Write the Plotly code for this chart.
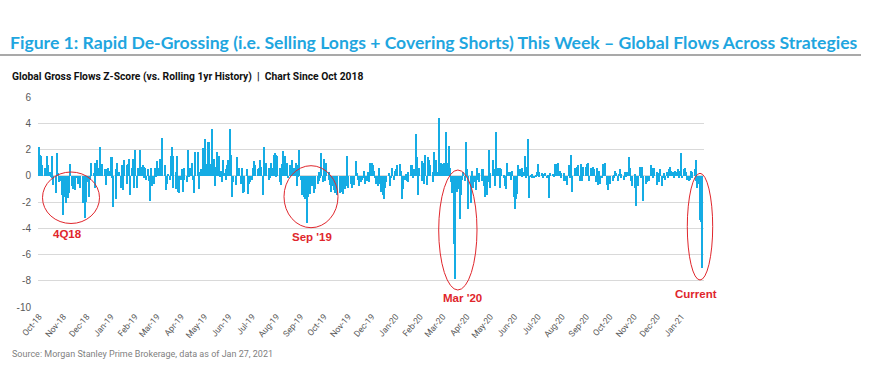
import pandas as pd
import plotly.graph_objects as go

# ---- data: daily Z-scores by month (business days) ----
m_2018_10 = [2.2, 1.6, 1.5, 1.2, 0.8, 0.6, 0.4, 0.2, 1.5, 0.8, 0.3, -0.1, -0.2, 1.5, -0.7, -0.3, -1.3, 1.7, 0.2, -0.5, -0.4, -1.5, -3.0]
m_2018_11 = [-0.5, -1.6, -2.1, -1.0, -1.7, -1.3, 0.9, -0.8, -0.2, -1.0, -0.4, -1.1, -0.2, -0.6, -0.5, -0.3, -0.9, -2.1, -1.3, -0.6, -3.2, -2.0]
m_2018_12 = [-0.5, -1.6, -0.3, 0.9, 1.0, 0.2, -0.9, 1.0, 0.9, 1.2, 0.6, 2.2, 0.9, 0.9, 0.8, 0.5, 0.3, -0.7, 0.5, 0.6, 0.4]
m_2019_01 = [1.4, 1.4, -0.2, -2.4, -1.8, 0.5, 1.0, 0.3, 0.3, -0.9, 0.8, 0.4, -1.1, 1.2, 0.8, -0.6, 0.9, 1.3, -1.5, 0.6, 1.3, 0.1, -0.9]
m_2019_02 = [2.0, -0.9, 0.6, 0.3, 2.0, 0.7, 0.8, 0.7, -0.2, 0.6, -0.3, 0.5, -0.4, -1.9, 0.6, -0.8, -0.6, 0.6, 0.2, -0.1]
m_2019_03 = [1.1, 0.6, 1.3, 0.4, 2.9, 2.0, 0.8, -1.1, -0.8, -0.6, 0.1, -0.3, 1.5, 2.2, 1.5, -0.9, -1.0, 0.3, 1.5, -1.2, -1.3]
m_2019_04 = [-0.3, 0.5, -1.2, -0.3, 0.6, -0.5, -0.4, 2.0, -0.1, 0.6, 1.0, -0.3, -0.5, -1.3, 1.8, 0.4, 1.8, -1.0, 0.3, 0.5, 2.1, 0.9]
m_2019_05 = [2.8, 2.1, 0.9, 2.6, 2.6, 0.3, 0.9, 3.6, 1.3, -0.8, 0.7, 0.7, 1.8, 1.5, -0.1, 0.4, -0.5, 1.2, 0.2, 0.5, -0.3, 0.8, 1.2]
m_2019_06 = [3.6, 1.6, -1.6, -0.5, -0.5, -0.7, 0.6, 1.4, 0.6, 0.6, -0.6, 0.6, -1.3, -0.4, -1.2, 0.5, -1.4, -1.1, -0.6, -0.5]
m_2019_07 = [-0.3, 0.6, 1.1, 0.8, 0.4, 0.5, 0.3, 0.6, 1.2, 0.7, -1.5, 2.2, 0.9, 0.7, 1.0, 0.6, -0.3, -0.2, 1.0, 0.6, 1.6, 1.7, -0.1]
m_2019_08 = [1.6, 1.5, 0.6, -0.5, -0.7, 0.9, 1.9, 1.5, 0.6, 0.4, 1.0, -0.2, 0.8, 0.5, 1.2, 0.3, 0.6, 1.0, 0.8, -0.8, -0.1, 2.0]
m_2019_09 = [-0.3, -1.5, -0.8, -1.6, -1.8, -3.6, -1.0, -1.6, -0.5, -1.4, -0.8, -0.3, -1.3, -1.0, -0.7, -0.6, -0.4, 0.3, -0.2, 1.7, -0.5]
m_2019_10 = [1.3, -0.4, 1.0, 0.7, 0.3, -0.3, -0.7, -1.2, -0.8, -1.1, -1.3, -0.5, -1.5, -1.4, -1.3, -1.2, -0.9, -1.2, -1.4, -1.0, -0.8, 1.5, -0.6]
m_2019_11 = [-0.9, -0.6, -0.4, -0.9, -0.3, -0.7, 1.1, 0.2, -0.2, -0.3, -0.8, -0.5, -0.3, -0.2, 0.4, -0.6, -0.4, 0.3, -0.2, -0.5, 1.0]
m_2019_12 = [1.0, 0.8, 0.4, -0.2, -0.6, -0.8, 0.6, -0.3, -0.6, -1.2, -1.5, -1.8, -0.9, -0.5, -0.3, 0.2, -0.8, -0.7, -0.2, 0.6, -0.3, 0.4]
m_2020_01 = [0.5, 0.7, 0.8, 0.9, 0.4, 0.2, -1.8, -1.0, -0.3, 0.1, -0.4, -0.5, 0.3, 0.6, 0.8, 0.8, -0.2, 0.5, 3.2, 1.4, -0.6, -1.5, 0.6]
m_2020_02 = [1.1, -0.4, 1.0, -0.6, 1.6, -0.7, 1.4, 0.6, 1.2, 0.8, 0.3, -0.5, 1.8, 0.5, 1.2, 0.3, 4.4, 0.3, 0.6, 1.0]
m_2020_03 = [0.9, 1.0, 0.5, 3.3, 1.0, 2.3, 0.6, 0.4, -0.5, -1.3, -5.2, -7.9, -0.7, -1.2, -1.0, -3.3, -1.5, -1.4, -0.3, 0.3, -0.4, 2.6]
m_2020_04 = [0.5, -0.6, -2.5, -2.1, -0.4, 0.4, -0.9, -0.5, -1.1, 0.6, -0.3, -0.5, 0.2, -0.4, 0.5, 0.5, -0.8, -1.6, -1.5, -0.5, 2.0, 0.2]
m_2020_05 = [-0.9, 1.2, 1.1, 0.5, -0.8, 3.3, 0.6, 0.4, -0.9, 0.6, 0.5, -0.1, -0.2, -0.8, -1.0, 1.0, 0.3, 0.3, 0.2, -0.3, 0.4]
m_2020_06 = [-1.6, -2.5, -1.8, -1.4, 0.8, 0.5, 0.2, -0.1, 0.6, 0.3, 1.5, -0.2, 0.7, 2.8, -1.7, -0.1, -0.2, 0.1, -0.2, -0.2, -0.1, 0.3]
m_2020_07 = [0.9, 0.3, -0.1, 0.2, -0.2, -0.2, 0.1, 0.2, -0.2, -0.1, -1.7, 0.1, 0.2, 0.1, 0.0, -0.1, 0.9, 0.9, 1.0, 0.4, 0.4, 0.2, -0.2]
m_2020_08 = [-0.4, 0.2, -0.2, -0.4, -0.7, 0.8, -0.2, 1.6, 1.3, -1.2, 0.1, 0.6, 0.6, 0.7, 0.8, -0.4, 0.9, -0.4, 0.5, 0.7, 0.3]
m_2020_09 = [0.7, 0.9, 1.0, -0.4, 0.6, 0.3, 0.3, 0.7, 0.5, -0.5, 0.6, -0.7, 0.4, -0.6, -0.2, 0.9, 0.3, 0.8, 1.0, -0.7, -1.1, -0.3]
m_2020_10 = [-0.6, -0.2, -0.4, -0.2, -0.1, 0.4, 0.2, -0.4, 0.1, 0.5, -0.2, 0.1, -0.3, 0.3, 0.2, -0.1, 0.3, 1.4, 0.6, -0.4, -0.6, -0.8]
m_2020_11 = [0.1, -0.9, -2.3, -0.6, -0.8, 0.7, -0.2, 0.7, -1.9, -0.4, -0.3, -0.6, -0.5, -0.3, -0.4, 0.8, 0.6, -0.2, 0.4, 0.6, 0.3]
m_2020_12 = [-0.7, 0.2, -0.5, 0.5, -0.8, -0.2, 0.2, 0.2, -0.3, 0.3, -0.2, 0.5, 0.7, 0.4, 0.3, -0.2, 0.2, 0.4, 0.3, 0.5, -0.2, 0.4, 1.7]
m_2021_01 = [-0.2, 0.5, 0.6, 0.4, 0.3, -0.3, -0.4, -0.3, 0.4, 0.3, -0.2, 0.5, 1.2, -0.4, -0.9, -0.6, -3.4, -3.5, -7.0]

months = [
    ("2018-10-01", m_2018_10), ("2018-11-01", m_2018_11), ("2018-12-01", m_2018_12),
    ("2019-01-01", m_2019_01), ("2019-02-01", m_2019_02), ("2019-03-01", m_2019_03),
    ("2019-04-01", m_2019_04), ("2019-05-01", m_2019_05), ("2019-06-01", m_2019_06),
    ("2019-07-01", m_2019_07), ("2019-08-01", m_2019_08), ("2019-09-01", m_2019_09),
    ("2019-10-01", m_2019_10), ("2019-11-01", m_2019_11), ("2019-12-01", m_2019_12),
    ("2020-01-01", m_2020_01), ("2020-02-01", m_2020_02), ("2020-03-01", m_2020_03),
    ("2020-04-01", m_2020_04), ("2020-05-01", m_2020_05), ("2020-06-01", m_2020_06),
    ("2020-07-01", m_2020_07), ("2020-08-01", m_2020_08), ("2020-09-01", m_2020_09),
    ("2020-10-01", m_2020_10), ("2020-11-01", m_2020_11), ("2020-12-01", m_2020_12),
    ("2021-01-01", m_2021_01),
]

y_ticks = [6, 4, 2, 0, -2, -4, -6, -8, -10]

title_text = "Figure 1: Rapid De-Grossing (i.e. Selling Longs + Covering Shorts) This Week \u2013 Global Flows Across Strategies"
subtitle_text = "Global Gross Flows Z-Score (vs. Rolling 1yr History)  |  Chart Since Oct 2018"
source_text = "Source: Morgan Stanley Prime Brokerage, data as of Jan 27, 2021"
callouts = ["4Q18", "Sep '19", "Mar '20", "Current"]

dates, values = [], []
for start, vals in months:
    d = pd.bdate_range(start=start, periods=len(vals))
    dates.extend(d)
    values.extend(vals)

# ---- layout geometry (pixels) ----
W, H = 869, 392
L, R, T, B = 38, 165, 97, 85
PW, PH = W - L - R, H - T - B

def px(x):
    return (x - L) / PW

def py(y):
    return (H - B - y) / PH

BLUE = "#15ACE4"
RED = "#E0262C"
SANS = "Roboto, Liberation Sans, Arial, sans-serif"

fig = go.Figure()
fig.add_trace(go.Bar(
    x=dates, y=values,
    marker=dict(color=BLUE, line=dict(width=0)),
    width=1.45 * 86400000,
    hoverinfo="x+y",
))

shapes = []
# grey rule under title
shapes.append(dict(type="line", xref="paper", yref="paper",
                   x0=px(0), x1=px(861), y0=py(55), y1=py(55),
                   line=dict(color="#8C8C8C", width=1.5)))
# red ellipses (pixel boxes)
ell = [(42.5, 172, 99.5, 223.5), (284, 165.7, 338, 227.7),
       (438.7, 170, 477, 290), (687.3, 173.3, 712.7, 280)]
for x0, y0, x1, y1 in ell:
    shapes.append(dict(type="circle", xref="paper", yref="paper",
                       x0=px(x0), x1=px(x1), y0=py(y1), y1=py(y0),
                       line=dict(color=RED, width=1)))

ann = []
lab_pos = [(67.5, 234), (312, 237), (462.5, 298), (696, 293.5)]
for txt, (x, y) in zip(callouts, lab_pos):
    ann.append(dict(text=txt, xref="paper", yref="paper", x=px(x), y=py(y),
                    xanchor="center", yanchor="middle", showarrow=False,
                    font=dict(family="Liberation Sans, Arial, sans-serif", size=11.5, color=RED, weight="bold")))
ann.append(dict(text=title_text, xref="paper", yref="paper", x=px(8), y=py(42),
                xanchor="left", yanchor="middle", showarrow=False,
                font=dict(family="Lato, Open Sans, sans-serif", size=17.6, color="#1FA6DF", weight="bold")))
ann.append(dict(text=subtitle_text, xref="paper", yref="paper", x=px(10), y=py(76.5),
                xanchor="left", yanchor="middle", showarrow=False,
                font=dict(family=SANS, size=10.3, color="#111111", weight="bold")))
ann.append(dict(text=source_text, xref="paper", yref="paper", x=px(10), y=py(354),
                xanchor="left", yanchor="middle", showarrow=False,
                font=dict(family=SANS, size=9, color="#7F7F7F")))

fig.update_layout(
    width=W, height=H,
    margin=dict(l=L, r=R, t=T, b=B, autoexpand=False),
    paper_bgcolor="white", plot_bgcolor="white",
    showlegend=False, bargap=0,
    shapes=shapes, annotations=ann,
    font=dict(family=SANS, color="#595959"),
)
fig.update_xaxes(
    type="date",
    range=["2018-09-29 12:00", "2021-01-29 17:00"],
    tickformat="%b-%y", dtick="M1", tick0="2018-10-01",
    tickangle=-50, showgrid=False, zeroline=False, showline=False,
    ticks="", ticklabelstandoff=2,
    tickfont=dict(family=SANS, size=8.6, color="#595959"),
    automargin=False, fixedrange=True,
)
fig.update_yaxes(
    range=[-10, 6], tickvals=y_ticks, ticktext=[str(v) for v in y_ticks],
    showgrid=True, gridcolor="#D9D9D9", gridwidth=1,
    zeroline=True, zerolinecolor="#D9D9D9", zerolinewidth=1,
    showline=False, ticks="", ticklabelstandoff=6,
    tickfont=dict(family="Liberation Sans, Arial, sans-serif", size=10, color="#595959"),
    automargin=False, fixedrange=True,
)

fig.write_html("out.html", config={"displayModeBar": False},
               post_script="document.body.style.margin='0';document.body.style.overflow='hidden';")
